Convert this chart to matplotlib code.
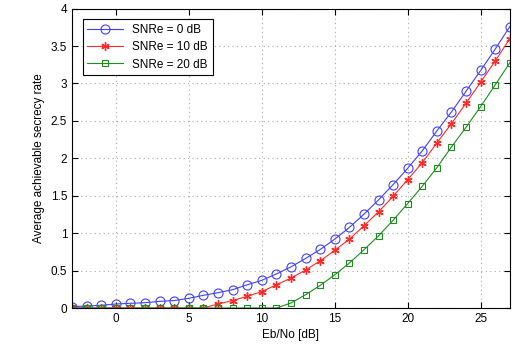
import matplotlib
matplotlib.use('Agg')
from matplotlib import pyplot as plt

plt.rcParams['font.family'] = ['Liberation Sans', 'DejaVu Sans']

# Eb/No in dB
ebno = list(range(-3, 28))

# Average achievable secrecy rate
snre_0 = [0.018, 0.027, 0.036, 0.054, 0.063, 0.071, 0.089, 0.10, 0.13, 0.17,
          0.205, 0.245, 0.31, 0.37, 0.455, 0.55, 0.662, 0.782, 0.92, 1.076,
          1.253, 1.444, 1.649, 1.867, 2.10, 2.366, 2.62, 2.897, 3.174, 3.46, 3.76]
snre_10 = [0.0, 0.0, 0.0, 0.0, 0.0, 0.0, 0.0, 0.0, 0.0, 0.0,
           0.054, 0.10, 0.156, 0.22, 0.31, 0.40, 0.507, 0.631, 0.769, 0.92,
           1.098, 1.284, 1.493, 1.716, 1.942, 2.205, 2.464, 2.737, 3.018, 3.30, 3.60]
snre_20 = [0.0, 0.0, 0.0, 0.0, 0.0, 0.0, 0.0, 0.0, 0.0, 0.0,
           0.0, 0.0, 0.0, 0.0, 0.0, 0.067, 0.178, 0.302, 0.444, 0.60,
           0.778, 0.964, 1.173, 1.396, 1.627, 1.876, 2.152, 2.415, 2.692, 2.982, 3.277]

fig = plt.figure(figsize=(5.15, 3.59), dpi=100)
ax = fig.add_axes([0.14, 0.142, 0.85, 0.834])

ax.plot(ebno, snre_0, color='#4040ff', lw=0.8, marker='o', ms=6.5,
        mfc='none', mew=0.8, label='SNRe = 0 dB')
ax.plot(ebno, snre_10, color='#ff2a2a', lw=0.8, marker=(6, 2, 0), ms=6,
        mew=1.0, label='SNRe = 10 dB')
ax.plot(ebno, snre_20, color='#1f8c1f', lw=0.8, marker='s', ms=5,
        mfc='none', mew=0.8, label='SNRe = 20 dB')

ax.set_xlim(-3, 27)
ax.set_ylim(0, 4)
ax.set_xticks([0, 5, 10, 15, 20, 25])
ax.set_yticks([0, 0.5, 1, 1.5, 2, 2.5, 3, 3.5, 4])
ax.set_yticklabels(['0', '0.5', '1', '1.5', '2', '2.5', '3', '3.5', '4'])
ax.grid(True, linestyle=(0, (1, 3)), color='#aaaaaa', lw=0.8)
ax.tick_params(direction='in', top=True, right=True, labelsize=8.5, length=4)
for s in ax.spines.values():
    s.set_linewidth(0.8)

ax.set_xlabel('Eb/No [dB]', fontsize=8.5, labelpad=3)
ax.set_ylabel('Average achievable secrecy rate', fontsize=8.5)

leg = ax.legend(loc='upper left', fontsize=8.5, fancybox=False,
                edgecolor='black', framealpha=1, handlelength=3.0,
                borderaxespad=0.9, labelspacing=0.45)
leg.get_frame().set_linewidth(0.8)

fig.savefig('out.png', dpi=100)
